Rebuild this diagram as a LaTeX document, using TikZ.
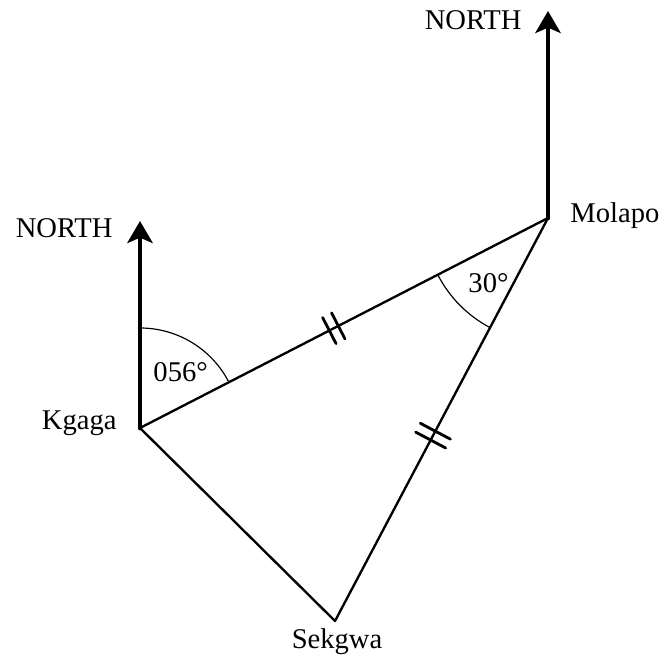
\documentclass[tikz,border=0pt]{standalone}
\usepackage{fontspec}
\setmainfont{Liberation Serif}
\usetikzlibrary{arrows.meta, positioning, calc, angles}

\begin{document}
\begin{tikzpicture}[x=0.015cm, y=0.015cm, line cap=round, line join=round,
    side/.style={line width=1pt},
    north/.style={line width=2.1pt, -{Stealth[length=0.33cm, width=0.38cm, inset=0.08cm]}},
    tick/.style={line width=1.2pt},
    arcl/.style={line width=0.5pt},
    lbl/.style={font=\fontsize{12.2}{14}\selectfont, inner sep=0pt}]
  \useasboundingbox (0,0) rectangle (667,663);
  % --- the three towns ---------------------------------------------
  \coordinate (kgaga) at (140,235);
  \coordinate (molapo) at (548,445);
  \coordinate (sekgwa) at (335,42);
  \coordinate (kn) at (140,442);   % north tip at Kgaga
  \coordinate (mn) at (548,652);   % north tip at Molapo
  % triangle sides
  \draw[side] (kgaga) -- (molapo) -- (sekgwa) -- cycle;
  % north arrows
  \draw[north] (kgaga) -- (kn);
  \draw[north] (molapo) -- (mn);
  % --- angle arcs ----------------------------------------------------
  \pic[draw, arcl, angle radius=1.5cm] {angle=molapo--kgaga--kn};
  \pic[draw, arcl, angle radius=1.86cm] {angle=kgaga--molapo--sekgwa};
  \node[lbl, anchor=base west] (bk) at (153,281) {056°};
  \node[lbl, anchor=base west] (am) at (468,370) {30°};
  % --- equal-length marks ------------------------------------------
  \foreach \f in {0.464,0.486} {
    \coordinate (t) at ($(kgaga)!\f!(molapo)$);
    \draw[tick] ($(t)!0.22cm!90:(molapo)$) -- ($(t)!0.22cm!-90:(molapo)$);
  }
  \foreach \f in {0.529,0.551} {
    \coordinate (t) at ($(molapo)!\f!(sekgwa)$);
    \draw[tick] ($(t)!0.255cm!90:(sekgwa)$) -- ($(t)!0.255cm!-90:(sekgwa)$);
  }
  % --- labels --------------------------------------------------------
  \node[lbl, anchor=base east] (nk) at (113,425) {NORTH};
  \node[lbl, anchor=base east] (nm) at (522,633) {NORTH};
  \node[lbl, anchor=base east] (lk) at (117,233) {Kgaga};
  \node[lbl, anchor=base west] (lm) at (570,440) {Molapo};
  \node[lbl, anchor=base] (ls) at (337,15) {Sekgwa};
\end{tikzpicture}
\end{document}
